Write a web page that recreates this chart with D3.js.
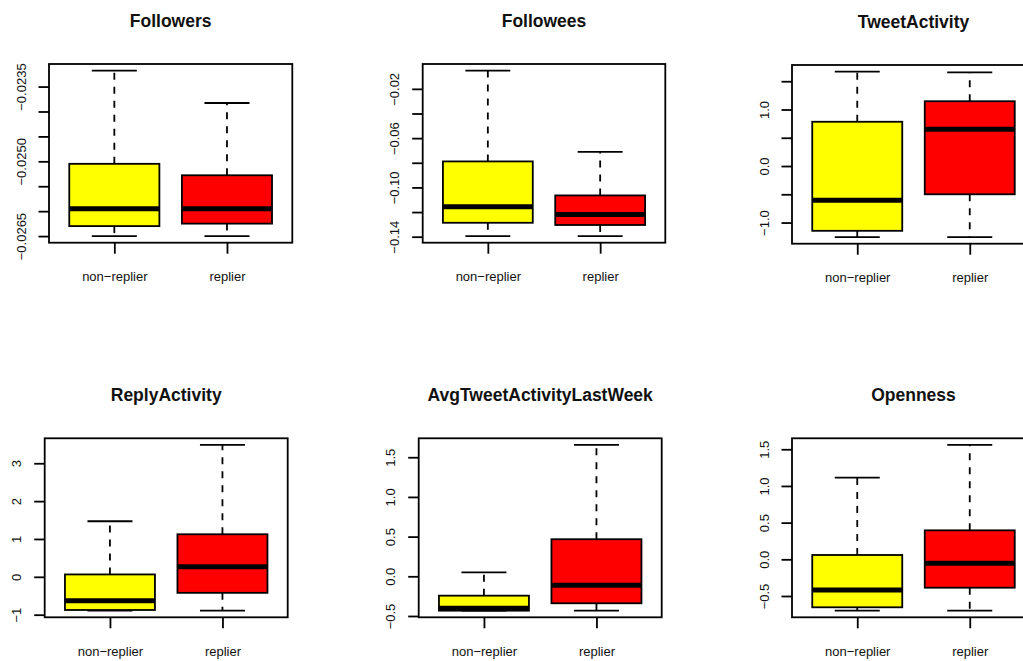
<!DOCTYPE html>
<html>
<head>
<meta charset="utf-8">
<script src="https://cdn.jsdelivr.net/npm/d3@7"></script>
<style>
  html, body { margin: 0; padding: 0; background: #fff; }
  svg { display: block; font-family: "Liberation Sans", Arial, Helvetica, sans-serif; }
</style>
</head>
<body>
<svg id="chart" width="1023" height="661"></svg>
<script>
// Variables shown, one boxplot panel each
const variables = ["Followers", "Followees", "TweetActivity",
                   "ReplyActivity", "AvgTweetActivityLastWeek", "Openness"];
const groups = ["non\u2212replier", "replier"];
const groupColors = ["#FFFF00", "#FF0000"];

// Five-number summaries per variable: [non-replier, replier]
const lowerWhisker = [
  [-0.02650, -0.02650], [-0.1395, -0.1395], [-1.257, -1.257],
  [-0.894, -0.894], [-0.433, -0.433], [-0.70, -0.70]
];
const lowerQuartile = [
  [-0.02630, -0.02625], [-0.1287, -0.1305], [-1.146, -0.50],
  [-0.876, -0.423], [-0.433, -0.34], [-0.654, -0.387]
];
const medians = [
  [-0.02595, -0.02595], [-0.1157, -0.1219], [-0.606, 0.65],
  [-0.635, 0.265], [-0.403, -0.113], [-0.418, -0.054]
];
const upperQuartile = [
  [-0.02505, -0.02528], [-0.0789, -0.1065], [0.783, 1.146],
  [0.063, 1.124], [-0.244, 0.467], [0.059, 0.395]
];
const upperWhisker = [
  [-0.02318, -0.02383], [-0.0052, -0.0711], [1.67, 1.658],
  [1.468, 3.484], [0.05, 1.655], [1.113, 1.559]
];

// Y-axis ticks and their labels (blank where the label is skipped)
const yTickValues = [
  [-0.0265, -0.0260, -0.0255, -0.0250, -0.0245, -0.0240, -0.0235],
  [-0.14, -0.12, -0.10, -0.08, -0.06, -0.04, -0.02],
  [-1.0, -0.5, 0.0, 0.5, 1.0, 1.5],
  [-1, 0, 1, 2, 3],
  [-0.5, 0.0, 0.5, 1.0, 1.5],
  [-0.5, 0.0, 0.5, 1.0, 1.5]
];
const yTickLabels = [
  ["\u22120.0265", "", "", "\u22120.0250", "", "", "\u22120.0235"],
  ["\u22120.14", "", "\u22120.10", "", "\u22120.06", "", "\u22120.02"],
  ["\u22121.0", "", "0.0", "", "1.0", ""],
  ["\u22121", "0", "1", "2", "3"],
  ["\u22120.5", "0.0", "0.5", "1.0", "1.5"],
  ["\u22120.5", "0.0", "0.5", "1.0", "1.5"]
];

// Plot-region rectangles of the 2x3 grid (pixels)
const frames = [
  { x0: 49.0,  x1: 292.3, y0: 64.0,  y1: 242.7 },
  { x0: 422.7, x1: 665.3, y0: 64.0,  y1: 242.7 },
  { x0: 792.0, x1: 1035.0, y0: 65.0, y1: 243.7 },
  { x0: 44.7,  x1: 287.7, y0: 438.3, y1: 617.3 },
  { x0: 418.7, x1: 661.7, y0: 438.3, y1: 617.3 },
  { x0: 792.0, x1: 1035.0, y0: 438.3, y1: 617.3 }
];

const LW = 1.8;          // ordinary line width
const MEDIAN_LW = 5;     // thick median bar
const TICK = 10.5;

const svg = d3.select("#chart");
svg.append("rect").attr("width", 1023).attr("height", 661).attr("fill", "#fff");

variables.forEach((name, i) => {
  const f = frames[i];
  const g = svg.append("g");

  // y-limits: data range padded by 4% on each side
  const lo = d3.min(lowerWhisker[i]);
  const hi = d3.max(upperWhisker[i]);
  const pad = (hi - lo) * 0.04;
  const y = d3.scaleLinear().domain([lo - pad, hi + pad]).range([f.y1, f.y0]);
  // x-limits: groups at 1 and 2, range 0.5..2.5 padded by 4%
  const x = d3.scaleLinear().domain([0.42, 2.58]).range([f.x0, f.x1]);

  groups.forEach((grp, j) => {
    const cx = x(j + 1);
    const halfBox = x(1.4) - x(1);
    const halfCap = x(1.2) - x(1);
    // dashed whiskers, drawn outward from the box
    g.append("line")
      .attr("x1", cx).attr("x2", cx)
      .attr("y1", y(upperQuartile[i][j])).attr("y2", y(upperWhisker[i][j]))
      .attr("stroke", "#000").attr("stroke-width", LW)
      .attr("stroke-dasharray", "7,7");
    g.append("line")
      .attr("x1", cx).attr("x2", cx)
      .attr("y1", y(lowerQuartile[i][j])).attr("y2", y(lowerWhisker[i][j]))
      .attr("stroke", "#000").attr("stroke-width", LW)
      .attr("stroke-dasharray", "7,7");
    // staples
    [upperWhisker[i][j], lowerWhisker[i][j]].forEach(v => {
      g.append("line")
        .attr("x1", cx - halfCap).attr("x2", cx + halfCap)
        .attr("y1", y(v)).attr("y2", y(v))
        .attr("stroke", "#000").attr("stroke-width", LW);
    });
    // box
    g.append("rect")
      .attr("x", cx - halfBox)
      .attr("y", y(upperQuartile[i][j]))
      .attr("width", halfBox * 2)
      .attr("height", y(lowerQuartile[i][j]) - y(upperQuartile[i][j]))
      .attr("fill", groupColors[j])
      .attr("stroke", "#000").attr("stroke-width", LW);
    // median
    g.append("line")
      .attr("x1", cx - halfBox).attr("x2", cx + halfBox)
      .attr("y1", y(medians[i][j])).attr("y2", y(medians[i][j]))
      .attr("stroke", "#000").attr("stroke-width", MEDIAN_LW);
  });

  // frame
  g.append("rect")
    .attr("x", f.x0).attr("y", f.y0)
    .attr("width", f.x1 - f.x0).attr("height", f.y1 - f.y0)
    .attr("fill", "none").attr("stroke", "#000").attr("stroke-width", LW);

  // left axis with rotated labels
  const yAxis = d3.axisLeft(y)
    .tickValues(yTickValues[i])
    .tickFormat((d, k) => yTickLabels[i][k])
    .tickSize(TICK).tickSizeOuter(0);
  const ya = g.append("g").attr("transform", `translate(${f.x0},0)`).call(yAxis);
  ya.select(".domain").remove();
  ya.selectAll(".tick line").attr("stroke", "#000").attr("stroke-width", LW);
  ya.selectAll(".tick text")
    .attr("transform", "rotate(-90)")
    .attr("x", 0).attr("y", -23.5).attr("dy", 0)
    .attr("text-anchor", "middle")
    .attr("font-size", 13).attr("fill", "#111")
    .attr("font-family", "Liberation Sans, Arial, sans-serif");

  // bottom axis with group names
  const xAxis = d3.axisBottom(x)
    .tickValues([1, 2])
    .tickFormat((d) => groups[d - 1])
    .tickSize(11).tickSizeOuter(0);
  const xa = g.append("g").attr("transform", `translate(0,${f.y1})`).call(xAxis);
  xa.select(".domain").remove();
  xa.selectAll(".tick line").attr("stroke", "#000").attr("stroke-width", LW);
  xa.selectAll(".tick text")
    .attr("y", 38.5).attr("dy", 0)
    .attr("font-size", 13).attr("fill", "#111")
    .attr("font-family", "Liberation Sans, Arial, sans-serif");

  // title
  g.append("text")
    .attr("x", (f.x0 + f.x1) / 2)
    .attr("y", f.y0 - 37)
    .attr("text-anchor", "middle")
    .attr("font-size", 17.5).attr("font-weight", "bold").attr("fill", "#111")
    .text(name);
});
</script>
</body>
</html>
